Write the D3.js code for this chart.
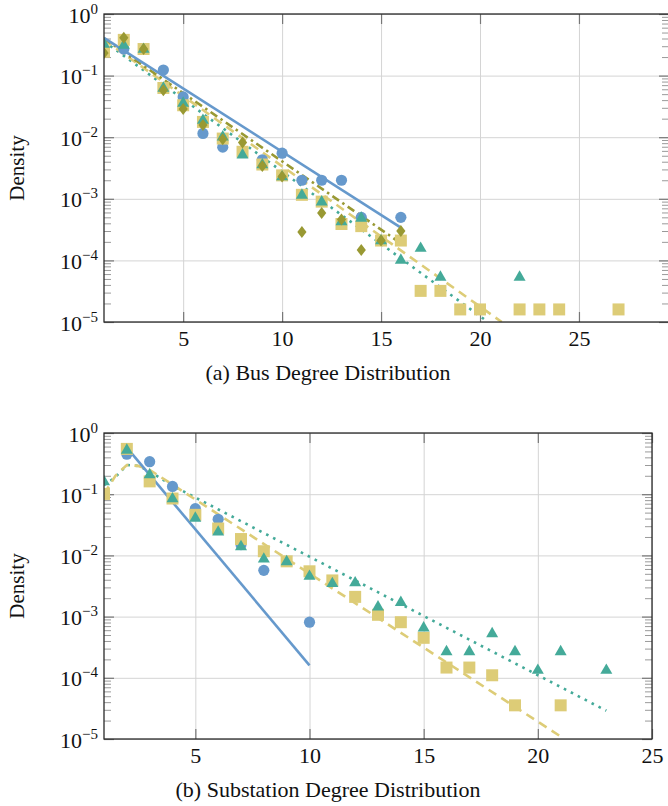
<!DOCTYPE html>
<html>
<head>
<meta charset="utf-8">
<title>Degree Distributions</title>
<script src="https://cdn.jsdelivr.net/npm/d3@7"></script>
<style>
body { margin: 0; background: #fff; }
svg text { font-family: "Liberation Serif", "Times New Roman", serif; fill: #111; }
.tick-label text { font-size: 22px; }
.caption { font-size: 22px; }
.ylabel { font-size: 21px; }
.grid line { stroke: #d4d4d4; stroke-width: 1; }
.minor line { stroke: #9a9a9a; stroke-width: 1; }
.major line { stroke: #777; stroke-width: 1.2; }
.frame { fill: none; stroke: #2a2a2a; stroke-width: 1.3; }
.fit { fill: none; stroke-width: 2.6; }
</style>
</head>
<body>
<script>

// (a) bus degree distribution, observed densities per degree
var busBlueDeg = [2, 4, 5, 6, 7, 9, 10, 11, 12, 13, 14, 16];
var busBlueVal = [0.27, 0.123, 0.045, 0.0115, 0.0069, 0.0043, 0.0055, 0.002, 0.002, 0.002, 0.0005, 0.0005];
var busTealDeg = [1, 2, 3, 4, 5, 6, 7, 8, 9, 10, 11, 12, 13, 14, 15, 16, 17, 18, 22];
var busTealVal = [0.326, 0.314, 0.27, 0.063, 0.036, 0.019, 0.0102, 0.0052, 0.0036, 0.0023, 0.00116, 0.0009,
                  0.00043, 0.00049, 0.00021, 0.000102, 0.000159, 0.000054, 0.000054];
var busSandDeg = [1, 2, 3, 4, 5, 6, 7, 8, 9, 10, 11, 12, 13, 14, 15, 16, 17, 18, 19, 20, 22, 23, 24, 27];
var busSandVal = [0.244, 0.38, 0.27, 0.063, 0.033, 0.0177, 0.0095, 0.0058, 0.0036, 0.0024, 0.00116, 0.0009,
                  0.00039, 0.00036, 0.00021, 0.00021, 0.000032, 0.000032, 0.000016, 0.000016, 0.000016,
                  0.000016, 0.000016, 0.000016];
var busOliveDeg = [1, 2, 3, 4, 5, 6, 7, 8, 9, 10, 11, 12, 13, 14, 15, 16];
var busOliveVal = [0.233, 0.41, 0.27, 0.058, 0.0286, 0.0158, 0.0093, 0.0082, 0.0034, 0.0023, 0.00029, 0.00059,
                   0.00046, 0.000148, 0.00021, 0.0003];
// (a) fitted curves
var busFitBlue = [[1, 0.41], [16, 0.00034]];
var busFitTeal = [[1, 0.36], [20.4, 0.00001]];
var busFitSand = [[1, 0.38], [21.1, 0.00001]];
var busFitOlive = [[1, 0.40], [16, 0.00019]];

// (b) substation degree distribution
var subBlueDeg = [2, 3, 4, 5, 6, 7, 8, 10];
var subBlueVal = [0.45, 0.34, 0.134, 0.058, 0.039, 0.015, 0.0057, 0.00081];
var subTealDeg = [1, 2, 3, 4, 5, 6, 7, 8, 9, 10, 11, 12, 13, 14, 15, 16, 17, 18, 19, 20, 21, 23];
var subTealVal = [0.162, 0.53, 0.21, 0.085, 0.041, 0.0243, 0.014, 0.0088, 0.008, 0.0046, 0.0035, 0.0036,
                  0.00145, 0.00172, 0.00066, 0.00027, 0.00027, 0.00053, 0.00027, 0.000134, 0.00027, 0.000134];
var subSandDeg = [1, 2, 3, 4, 5, 6, 7, 8, 9, 10, 11, 12, 13, 14, 15, 16, 17, 18, 19, 21];
var subSandVal = [0.101, 0.55, 0.162, 0.085, 0.046, 0.0275, 0.0185, 0.0117, 0.008, 0.0055, 0.0039, 0.0021,
                  0.00107, 0.00081, 0.00045, 0.000147, 0.000147, 0.00011, 0.0000355, 0.0000355];
var subFitBlue = [[2, 0.576], [10, 0.00016]];
var subFitTeal = [[1, 0.14], [1.5, 0.19], [2, 0.30], [2.5, 0.29], [3, 0.235], [4, 0.138], [23, 0.000029]];
var subFitSand = [[1, 0.10], [1.5, 0.20], [2, 0.30], [2.5, 0.29], [3, 0.25], [21, 0.000011]];

var xTickVals = [5, 10, 15, 20, 25];
var decades = [1e-5, 1e-4, 1e-3, 1e-2, 1e-1, 1];
var captions = ["(a) Bus Degree Distribution", "(b) Substation Degree Distribution"];

var colBlue = "#6699cc", colTeal = "#44aa99", colSand = "#ddcc77", colOlive = "#999933";

var width = 668, height = 806;
var svg = d3.select("body").append("svg").attr("width", width).attr("height", height);

var minorVals = [];
decades.slice(0, 5).forEach(function(d) {
    for (var k = 2; k <= 9; k++) minorVals.push(d * k);
});

function zipPts(xs, ys) {
    return xs.map(function(v, i) { return [v, ys[i]]; });
}

function drawPanel(p, idx) {
    var x = d3.scaleLinear().domain(p.xDomain).range([p.left, p.right]);
    var y = d3.scaleLog().domain([1e-5, 1]).range([p.bottom, p.top]);
    var h = p.bottom - p.top, w = p.right - p.left;
    var g = svg.append("g");

    g.append("clipPath").attr("id", "clip" + idx)
      .append("rect").attr("x", p.left).attr("y", p.top).attr("width", w).attr("height", h);

    // grid
    var gx = g.append("g").attr("class", "grid").attr("transform", "translate(0," + p.bottom + ")")
        .call(d3.axisBottom(x).tickValues(xTickVals).tickSize(-h).tickFormat(""));
    var gy = g.append("g").attr("class", "grid").attr("transform", "translate(" + p.left + ",0)")
        .call(d3.axisLeft(y).tickValues(decades).tickSize(-w).tickFormat(""));

    // minor / major ticks, inward, left + right
    var ml = g.append("g").attr("class", "minor").attr("transform", "translate(" + p.left + ",0)")
        .call(d3.axisLeft(y).tickValues(minorVals).tickSize(-7).tickFormat(""));
    var mr = g.append("g").attr("class", "minor").attr("transform", "translate(" + p.right + ",0)")
        .call(d3.axisRight(y).tickValues(minorVals).tickSize(-7).tickFormat(""));
    var jl = g.append("g").attr("class", "major").attr("transform", "translate(" + p.left + ",0)")
        .call(d3.axisLeft(y).tickValues(decades).tickSize(-10).tickFormat(""));
    var jr = g.append("g").attr("class", "major").attr("transform", "translate(" + p.right + ",0)")
        .call(d3.axisRight(y).tickValues(decades).tickSize(-10).tickFormat(""));
    var jb = g.append("g").attr("class", "major").attr("transform", "translate(0," + p.bottom + ")")
        .call(d3.axisBottom(x).tickValues(xTickVals).tickSize(-10).tickFormat(""));
    var jt = g.append("g").attr("class", "major").attr("transform", "translate(0," + p.top + ")")
        .call(d3.axisTop(x).tickValues(xTickVals).tickSize(-10).tickFormat(""));
    [gx, gy, ml, mr, jl, jr, jb, jt].forEach(function(a) { a.select(".domain").remove(); });

    // tick labels
    var lx = g.append("g").attr("class", "tick-label").attr("transform", "translate(0," + p.bottom + ")")
        .call(d3.axisBottom(x).tickValues(xTickVals).tickSize(0).tickPadding(8));
    lx.attr("font-family", null).attr("font-size", null);
    lx.select(".domain").remove();

    var ly = g.append("g").attr("class", "tick-label").attr("transform", "translate(" + p.left + ",0)")
        .call(d3.axisLeft(y).tickValues(decades).tickSize(0).tickPadding(6).tickFormat(""));
    ly.attr("font-family", null).attr("font-size", null);
    ly.select(".domain").remove();
    ly.selectAll(".tick text").each(function(d) {
        var t = d3.select(this).attr("dy", null).attr("y", 8).attr("x", -6);
        var e = Math.round(Math.log10(d));
        t.append("tspan").text("10");
        t.append("tspan").attr("dy", -9).attr("font-size", "15px").text(e === 0 ? "0" : "\u2212" + (-e));
    });

    // fitted curves
    var line = d3.line().x(function(d) { return x(d[0]); }).y(function(d) { return y(d[1]); });
    var fits = g.append("g").attr("clip-path", "url(#clip" + idx + ")");
    p.fits.forEach(function(f) {
        fits.append("path").attr("class", "fit").attr("d", line(f.data))
            .attr("stroke", f.color).attr("stroke-dasharray", f.dash);
    });

    // markers
    var mk = g.append("g").attr("clip-path", "url(#clip" + idx + ")");
    p.marks.forEach(function(s) {
        var sel = mk.append("g").attr("fill", s.color).selectAll("path")
            .data(zipPts(s.deg, s.val)).enter().append("path")
            .attr("transform", function(d) { return "translate(" + x(d[0]) + "," + y(d[1]) + ")"; });
        if (s.shape === "circle") sel.attr("d", d3.symbol(d3.symbolCircle, Math.PI * 5.6 * 5.6));
        else if (s.shape === "square") sel.attr("d", "M-6,-6h12v12h-12Z");
        else if (s.shape === "triangle") sel.attr("d", "M0,-6.6L6,3.8L-6,3.8Z");
        else sel.attr("d", "M0,-6L4.6,0L0,6L-4.6,0Z");
    });

    // frame
    g.append("rect").attr("class", "frame").attr("x", p.left).attr("y", p.top)
        .attr("width", w).attr("height", h);

    g.append("text").attr("class", "ylabel").attr("text-anchor", "middle")
        .attr("transform", "translate(24," + (p.top + h / 2) + ") rotate(-90)").text("Density");
    g.append("text").attr("class", "caption").attr("text-anchor", "middle")
        .attr("x", 328).attr("y", p.captionY).text(p.caption);
}

drawPanel({
    left: 104, right: 669, top: 14, bottom: 322, xDomain: [1, 29.55],
    caption: captions[0], captionY: 380,
    fits: [
        { data: busFitTeal, color: colTeal, dash: "2.6,5.2" },
        { data: busFitSand, color: colSand, dash: "9,6" },
        { data: busFitOlive, color: colOlive, dash: "8,4,2.5,4" },
        { data: busFitBlue, color: colBlue, dash: null }
    ],
    marks: [
        { deg: busBlueDeg, val: busBlueVal, color: colBlue, shape: "circle" },
        { deg: busSandDeg, val: busSandVal, color: colSand, shape: "square" },
        { deg: busTealDeg, val: busTealVal, color: colTeal, shape: "triangle" },
        { deg: busOliveDeg, val: busOliveVal, color: colOlive, shape: "diamond" }
    ]
}, 0);

drawPanel({
    left: 104, right: 652, top: 433, bottom: 739, xDomain: [1, 25],
    caption: captions[1], captionY: 797,
    fits: [
        { data: subFitTeal, color: colTeal, dash: "2.6,5.2" },
        { data: subFitSand, color: colSand, dash: "9,6" },
        { data: subFitBlue, color: colBlue, dash: null }
    ],
    marks: [
        { deg: subBlueDeg, val: subBlueVal, color: colBlue, shape: "circle" },
        { deg: subSandDeg, val: subSandVal, color: colSand, shape: "square" },
        { deg: subTealDeg, val: subTealVal, color: colTeal, shape: "triangle" }
    ]
}, 1);

</script>
</body>
</html>
